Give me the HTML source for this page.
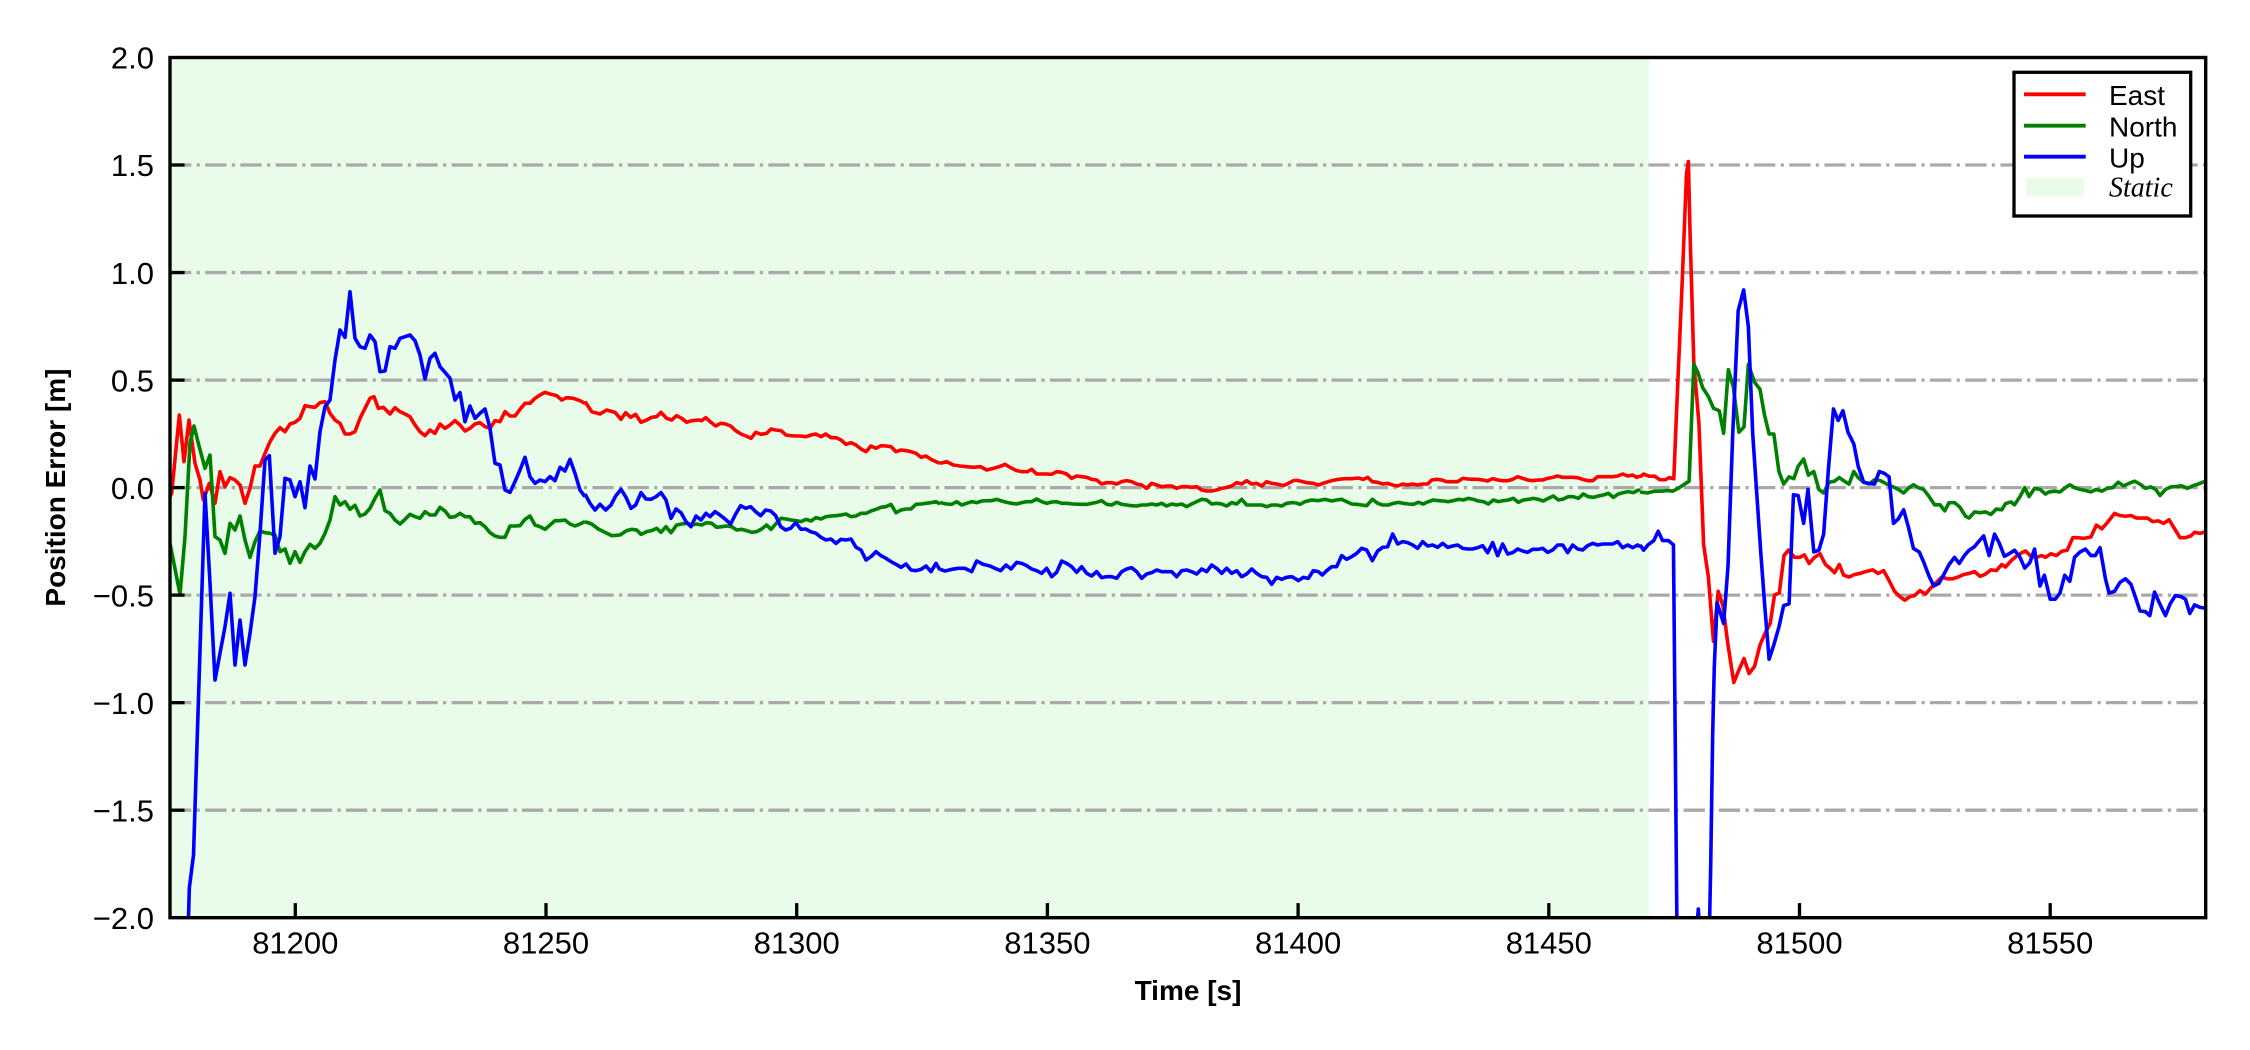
<!DOCTYPE html>
<html>
<head>
<meta charset="utf-8">
<style>
html,body{margin:0;padding:0;background:#fff;}
svg{display:block;}
text{font-family:"Liberation Sans",Arial,sans-serif;}
.tk{font-size:31px;fill:#000;}
.lbl{font-size:28px;font-weight:bold;fill:#000;}
.lg{font-size:28px;fill:#000;}
.s{fill:none;stroke-width:3.6;stroke-linejoin:round;stroke-linecap:butt;}
</style>
</head>
<body>
<svg width="2250" height="1050" viewBox="0 0 2250 1050" xmlns="http://www.w3.org/2000/svg">
<defs>
<clipPath id="ax"><rect x="170" y="57.5" width="2035.7" height="860.2"/></clipPath>
</defs>
<rect x="0" y="0" width="2250" height="1050" fill="#fff"/>
<!-- static region -->
<rect x="170" y="57.5" width="1479" height="860.2" fill="#e9fce9"/>
<!-- grid -->
<g stroke="#a9a9a9" stroke-width="3.3" stroke-dasharray="21.3 5.3 3.3 5.3" fill="none">
<line x1="170" y1="165.0" x2="2205.7" y2="165.0"/>
<line x1="170" y1="272.55" x2="2205.7" y2="272.55"/>
<line x1="170" y1="380.1" x2="2205.7" y2="380.1"/>
<line x1="170" y1="487.6" x2="2205.7" y2="487.6"/>
<line x1="170" y1="595.1" x2="2205.7" y2="595.1"/>
<line x1="170" y1="702.65" x2="2205.7" y2="702.65"/>
<line x1="170" y1="810.2" x2="2205.7" y2="810.2"/>
</g>
<g clip-path="url(#ax)">
<!-- zoom6 region -->
<g transform="translate(170,250) scale(0.333333)">
<polyline class="s" stroke="#ff0000" vector-effect="non-scaling-stroke" points="0,740 5,730 28,495 42,635 57,510 75,640 90,690 100,750 118,700 135,760 150,665 165,710 180,683 195,690 210,705 225,760 240,715 255,648 270,648 285,610 300,575 315,550 330,533 345,545 360,522 375,517 390,505 405,467 420,470 435,472 450,458 465,455 480,490 495,510 510,520 525,552 540,552 555,545 570,505 585,475 600,445 612,440 625,475 640,472 660,492 675,473 690,485 705,492 720,500 735,525 750,545 765,557 780,540 795,550 810,522 825,535 840,525 855,512 870,525 885,543 900,535 915,522 930,518 945,530 960,535 975,512 990,515 1005,485 1020,498 1035,498 1050,478 1065,460 1080,460 1095,445 1110,435 1125,427 1140,432 1160,437 1175,450 1190,443 1210,445 1230,452 1245,460"/>
<polyline class="s" stroke="#008000" vector-effect="non-scaling-stroke" points="0,880 30,1033 45,860 60,580 72,528 85,580 105,655 120,615 135,860 150,870 165,910 180,820 195,840 210,798 225,870 240,922 255,875 270,843 285,848 300,850 315,855 330,905 345,897 360,940 375,905 390,937 405,905 420,883 435,895 450,880 465,850 480,810 495,740 510,765 525,755 540,778 555,766 570,798 585,792 600,775 615,745 630,720 645,782 660,790 675,810 690,822 705,808 720,793 735,800 750,805 765,785 780,795 795,795 810,772 825,783 840,802 855,800 870,790 885,800 900,800 915,820 930,818 945,830 960,848 975,858 990,862 1005,862 1020,828 1035,828 1050,827 1065,808 1080,798 1095,825 1110,830 1125,838 1140,825 1155,812 1170,812 1185,810 1200,822 1215,828 1230,822 1245,815"/>
<polyline class="s" stroke="#0000ff" vector-effect="non-scaling-stroke" points="54,2055 58,1914 70.5,1815 105,730 120,1000 135,1290 150,1210 165,1130 180,1030 195,1245 210,1110 225,1245 240,1150 255,1040 270,850 285,630 298,617 315,910 330,860 345,685 360,690 375,740 390,695 405,773 420,648 435,687 450,545 465,470 480,450 495,330 510,240 525,262 540,125 555,265 570,290 585,295 600,255 615,275 630,365 645,363 660,290 675,295 690,265 705,260 720,255 735,272 750,315 765,387 780,325 795,310 810,350 825,367 840,385 855,450 870,428 885,515 900,468 915,505 930,490 945,477 960,535 975,640 990,645 1005,720 1020,727 1035,695 1050,660 1065,622 1080,680 1095,700 1110,690 1125,695 1140,680 1155,692 1170,652 1185,663 1200,628 1215,670 1230,720 1245,740"/>
</g>
<!-- zoom8 region -->
<g transform="translate(585,370) scale(0.333333)">
<polyline class="s" stroke="#ff0000" vector-effect="non-scaling-stroke" points="0,95 20,125 45,132 65,120 90,127 108,148 122,128 137,142 152,133 168,157 185,150 200,142 215,140 228,127 245,145 260,150 275,137 290,145 305,157 320,152 340,150 350,152 362,143 378,157 392,168 407,160 422,162 437,168 452,182 468,192 483,198 498,205 512,187 528,193 545,190 558,177 572,180 588,182 603,195 618,197 633,198 648,198 663,200 678,195 692,192 708,200 722,192 738,203 753,203 768,210 783,223 798,218 813,225 828,237 843,245 858,228 873,235 888,227 903,228 918,230 933,245 948,240 963,242 978,245 993,250 1008,262 1023,258 1038,268 1053,275 1065,280"/>
<polyline class="s" stroke="#008000" vector-effect="non-scaling-stroke" points="0,455 20,462 40,477 60,487 80,497 105,495 125,482 140,478 155,480 168,493 185,485 200,482 215,475 228,487 243,470 258,488 275,465 290,462 305,460 320,465 335,462 350,465 365,458 380,460 395,472 410,470 425,468 440,470 455,480 470,478 485,482 500,487 515,485 530,477 545,465 558,478 572,462 588,445 603,447 618,450 633,452 648,455 663,448 678,453 693,443 708,447 723,440 738,438 753,437 768,435 783,432 798,440 813,438 828,430 843,430 858,423 873,418 888,412 903,410 918,403 933,428 948,420 963,417 978,417 993,403 1008,402 1023,400 1038,398 1053,395 1065,402"/>
<polyline class="s" stroke="#0000ff" vector-effect="non-scaling-stroke" points="0,372 15,400 30,420 45,403 62,420 78,405 92,378 108,358 122,380 138,415 152,405 168,368 183,387 198,388 213,380 228,368 243,390 258,445 273,417 288,428 303,455 318,470 333,438 348,450 363,430 375,440 390,425 405,435 420,447 437,462 452,432 467,407 482,415 497,410 512,425 527,437 542,420 557,423 572,437 587,470 602,480 617,475 632,458 648,478 662,477 677,485 693,490 708,502 723,510 738,507 753,520 768,508 783,510 798,507 813,532 828,540 843,570 858,560 873,545 888,557 903,565 918,575 933,583 948,592 963,582 978,600 993,602 1008,598 1023,588 1038,605 1053,580 1065,600"/>
</g>
<!-- zoom9 region -->
<g transform="translate(940,370) scale(0.333333)">
<polyline class="s" stroke="#ff0000" vector-effect="non-scaling-stroke" points="0,280 20,275 40,285 60,288 80,290 100,292 122,290 140,300 160,295 178,290 195,283 212,293 230,302 245,305 262,305 275,298 290,312 305,312 320,312 335,313 350,305 365,307 380,312 395,325 410,318 425,320 440,322 455,328 470,330 485,342 500,338 515,338 530,342 545,335 560,332 575,335 590,342 605,345 620,355 635,340 650,345 665,350 680,348 695,348 710,355 725,350 740,350 755,352 770,350 785,360 800,363 815,363 830,360 845,355 860,352 875,348 890,338 905,342 920,332 935,342 950,340 965,348 980,335 995,340 1010,342 1030,347 1045,340 1060,332 1065,331"/>
<polyline class="s" stroke="#008000" vector-effect="non-scaling-stroke" points="0,398 20,402 35,403 50,395 65,405 80,400 95,395 110,398 125,393 140,392 155,392 170,388 185,393 200,397 215,400 230,402 245,398 260,395 275,395 290,387 305,395 320,400 335,396 350,395 365,400 380,400 400,402 420,403 440,403 455,400 470,397 485,392 500,403 515,405 530,397 545,403 560,405 575,407 590,408 605,405 620,405 635,402 650,405 665,400 680,408 695,402 710,405 725,402 740,410 755,402 770,395 785,388 800,390 815,402 830,400 845,402 860,408 875,398 890,402 905,388 920,405 935,405 950,405 965,405 980,410 995,405 1010,405 1025,408 1040,400 1055,398 1065,398"/>
<polyline class="s" stroke="#0000ff" vector-effect="non-scaling-stroke" points="0,598 15,603 35,598 55,595 75,595 95,605 110,573 130,583 150,588 165,595 182,602 198,585 213,597 230,577 245,580 260,587 275,597 290,602 305,610 320,595 335,620 350,607 365,573 380,580 395,590 410,607 425,590 440,610 455,618 470,605 485,623 500,620 515,620 530,625 545,605 560,597 575,593 590,605 605,625 620,612 635,608 650,600 665,605 680,605 695,605 710,620 725,602 740,600 755,605 770,612 785,597 800,605 815,585 830,595 845,610 860,595 875,610 890,602 905,620 920,612 935,597 950,610 965,620 980,622 995,643 1010,622 1025,628 1040,622 1055,620 1065,625"/>
</g>
<!-- zoom10 region -->
<g transform="translate(1295,370) scale(0.333333)">
<polyline class="s" stroke="#ff0000" vector-effect="non-scaling-stroke" points="0,330 15,333 35,338 55,340 70,345 90,338 110,332 130,328 150,326 170,326 190,324 205,328 218,322 232,335 248,337 263,342 278,340 293,345 308,348 323,342 338,345 353,342 368,345 383,342 398,342 410,330 425,328 440,330 455,335 470,335 488,335 503,325 518,327 533,328 548,328 563,330 578,333 593,326 608,330 623,332 638,332 653,328 668,320 683,325 698,330 713,332 728,330 743,330 758,325 773,322 788,318 803,322 818,322 833,322 848,323 863,328 878,332 893,332 908,320 923,320 938,320 953,320 968,318 983,312 998,318 1013,315 1025,322 1035,318"/>
<polyline class="s" stroke="#008000" vector-effect="non-scaling-stroke" points="0,398 15,403 30,395 50,390 70,392 90,388 110,393 125,390 140,388 155,395 170,402 185,403 200,405 215,407 232,388 248,400 263,405 280,405 295,400 310,397 325,400 340,402 355,403 370,397 385,402 400,395 415,390 430,392 445,393 460,395 475,392 490,388 505,390 520,385 535,388 550,393 565,395 580,402 595,390 610,395 625,392 640,390 655,385 670,397 685,390 700,388 715,385 730,388 745,393 760,385 775,378 790,390 805,387 820,380 835,380 850,385 865,372 880,380 895,382 910,378 925,375 940,370 955,382 970,372 985,368 1000,365 1015,368 1030,360 1035,362"/>
<polyline class="s" stroke="#0000ff" vector-effect="non-scaling-stroke" points="0,625 10,632 25,622 40,625 55,602 70,605 82,615 95,602 110,590 125,590 140,557 155,568 170,560 185,550 200,535 215,540 232,572 248,543 263,532 278,530 293,492 308,522 323,515 338,518 353,525 368,535 383,515 398,528 413,525 428,532 443,520 458,532 473,528 488,525 503,535 518,537 533,537 548,533 563,527 578,548 593,518 608,557 623,522 638,552 653,548 668,537 683,543 698,547 713,538 728,538 743,535 758,547 773,540 788,525 803,525 818,548 833,525 848,537 863,540 878,527 893,520 908,525 923,522 938,522 953,522 968,515 983,533 998,525 1013,533 1028,525 1035,530"/>
</g>
<!-- zoom7 region -->
<g transform="translate(1640,130.1) scale(0.363636,0.357526)">
<polyline class="s" stroke="#ff0000" vector-effect="non-scaling-stroke" points="0,970 10,962 25,968 40,968 55,978 70,978 80,972 93,975 100,800 115,450 128,120 133,88 138,300 148,650 162,820 175,1160 188,1250 202,1430 215,1290 228,1330 242,1440 258,1545 272,1510 286,1478 300,1520 315,1500 330,1440 345,1405 358,1380 370,1300 383,1295 396,1190 408,1175 425,1195 440,1195 452,1188 465,1212 480,1195 495,1185 510,1215 522,1225 535,1238 548,1215 560,1245 575,1250 590,1243 605,1240 620,1235 640,1230 655,1240 670,1232 685,1260 700,1290 715,1305 728,1315 742,1305 755,1302 770,1288 785,1298 800,1280 815,1265 830,1250 845,1255 860,1255 875,1250 890,1243 905,1240 920,1235 935,1248 950,1242 965,1230 980,1232 995,1215 1005,1222 1020,1205 1035,1192 1050,1182 1060,1177 1075,1192 1090,1195 1105,1190 1115,1195 1130,1185 1145,1190 1160,1178 1175,1175 1190,1140 1205,1140 1220,1142 1240,1138 1255,1105 1270,1115 1285,1098 1305,1072 1320,1078 1335,1080 1350,1078 1365,1085 1380,1085 1395,1085 1410,1095 1425,1093 1440,1100 1455,1090 1470,1115 1485,1140 1500,1140 1515,1135 1525,1125 1540,1128 1560,1122"/>
<polyline class="s" stroke="#008000" vector-effect="non-scaling-stroke" points="0,1012 20,1015 40,1010 60,1010 75,1008 90,1010 105,1002 120,992 135,982 148,655 160,680 172,720 188,745 202,778 218,785 230,848 243,670 257,720 272,845 286,830 298,655 315,705 330,725 342,795 355,850 368,850 382,955 395,990 410,970 423,975 435,940 450,920 463,965 478,955 492,1005 505,1015 520,985 535,982 548,972 562,982 575,990 588,955 600,972 615,985 630,990 645,978 660,980 675,988 690,995 710,1005 725,1015 740,1000 752,992 765,1000 780,1005 795,1025 810,1048 825,1048 838,1065 850,1042 865,1042 880,1055 895,1080 905,1085 920,1068 935,1070 950,1068 965,1075 980,1060 995,1062 1005,1045 1020,1040 1030,1048 1045,1025 1058,1000 1070,1025 1085,1002 1100,1005 1115,1018 1125,1012 1140,1010 1155,1012 1170,1000 1182,992 1195,1000 1210,1005 1225,1008 1240,1012 1255,1005 1270,1010 1285,1002 1300,1000 1315,985 1330,995 1345,988 1360,982 1375,990 1390,1002 1405,998 1418,1005 1430,1022 1445,1005 1460,998 1475,997 1490,995 1505,1002 1520,995 1535,990 1560,980"/>
<polyline class="s" stroke="#0000ff" vector-effect="non-scaling-stroke" points="0,1160 10,1175 22,1160 38,1148 50,1122 62,1148 78,1148 92,1160 101.75,2251"/>
<polyline class="s" stroke="#0000ff" vector-effect="non-scaling-stroke" points="190.6,2251 194.4,2060 199.9,1687 204.3,1501 212,1322 230,1380 242,1220 255,850 270,505 285,447 298,550 310,850 320,1000 332,1180 343,1330 355,1480 368,1440 382,1390 395,1330 410,1325 422,1020 435,1022 450,1100 462,1005 478,1180 492,1175 505,1130 518,950 532,780 545,812 558,785 572,845 588,878 600,940 615,985 630,988 645,990 658,955 672,960 685,970 697,1100 710,1088 725,1062 738,1110 752,1170 768,1180 780,1208 795,1248 808,1275 822,1268 838,1238 850,1215 865,1195 878,1212 892,1190 905,1175 920,1165 932,1150 945,1135 960,1190 975,1130 988,1155 1002,1192 1015,1185 1030,1175 1045,1195 1058,1225 1072,1210 1085,1172 1100,1275 1112,1245 1128,1312 1142,1312 1155,1295 1168,1245 1182,1262 1195,1195 1210,1180 1225,1172 1240,1190 1252,1190 1265,1168 1280,1255 1290,1295 1305,1290 1320,1265 1335,1255 1350,1270 1362,1305 1375,1345 1390,1347 1402,1358 1415,1292 1428,1322 1445,1358 1458,1325 1472,1302 1488,1305 1500,1312 1512,1352 1525,1328 1540,1335 1560,1338"/>
</g>
<polyline class="s" stroke="#0000ff" points="1696.5,935 1698.3,909 1700,935"/>
</g>
<!-- ticks -->
<g stroke="#000" stroke-width="3.3">
<line x1="170" y1="165.0" x2="184.6" y2="165.0"/>
<line x1="170" y1="272.55" x2="184.6" y2="272.55"/>
<line x1="170" y1="380.1" x2="184.6" y2="380.1"/>
<line x1="170" y1="487.6" x2="184.6" y2="487.6"/>
<line x1="170" y1="595.1" x2="184.6" y2="595.1"/>
<line x1="170" y1="702.65" x2="184.6" y2="702.65"/>
<line x1="170" y1="810.2" x2="184.6" y2="810.2"/>
<line x1="295.3" y1="917.7" x2="295.3" y2="903.1"/>
<line x1="546.0" y1="917.7" x2="546.0" y2="903.1"/>
<line x1="796.7" y1="917.7" x2="796.7" y2="903.1"/>
<line x1="1047.4" y1="917.7" x2="1047.4" y2="903.1"/>
<line x1="1298.1" y1="917.7" x2="1298.1" y2="903.1"/>
<line x1="1548.8" y1="917.7" x2="1548.8" y2="903.1"/>
<line x1="1799.5" y1="917.7" x2="1799.5" y2="903.1"/>
<line x1="2050.2" y1="917.7" x2="2050.2" y2="903.1"/>
</g>
<!-- spines -->
<rect x="170" y="57.5" width="2035.7" height="860.2" fill="none" stroke="#000" stroke-width="3.4"/>
<!-- y tick labels -->
<g class="tk" text-anchor="end">
<text x="154" y="68.7">2.0</text>
<text x="154" y="176.2">1.5</text>
<text x="154" y="283.75">1.0</text>
<text x="154" y="391.3">0.5</text>
<text x="154" y="498.8">0.0</text>
<text x="154" y="606.3">−0.5</text>
<text x="154" y="713.85">−1.0</text>
<text x="154" y="821.4">−1.5</text>
<text x="154" y="928.9">−2.0</text>
</g>
<!-- x tick labels -->
<g class="tk" text-anchor="middle">
<text x="295.3" y="953.5">81200</text>
<text x="546.0" y="953.5">81250</text>
<text x="796.7" y="953.5">81300</text>
<text x="1047.4" y="953.5">81350</text>
<text x="1298.1" y="953.5">81400</text>
<text x="1548.8" y="953.5">81450</text>
<text x="1799.5" y="953.5">81500</text>
<text x="2050.2" y="953.5">81550</text>
</g>
<!-- axis labels -->
<text class="lbl" x="1188" y="1000" text-anchor="middle">Time [s]</text>
<text class="lbl" text-anchor="middle" transform="translate(65,487.6) rotate(-90)">Position Error [m]</text>
<!-- legend -->
<rect x="2014" y="72.3" width="176.7" height="143.7" fill="#fff" stroke="#000" stroke-width="3.3"/>
<line x1="2024" y1="94.3" x2="2085.7" y2="94.3" stroke="#ff0000" stroke-width="3.8"/>
<line x1="2024" y1="125.7" x2="2085.7" y2="125.7" stroke="#008000" stroke-width="3.8"/>
<line x1="2024" y1="156.7" x2="2085.7" y2="156.7" stroke="#0000ff" stroke-width="3.8"/>
<rect x="2026" y="178" width="58" height="18.7" fill="#e9fce9"/>
<text class="lg" x="2109" y="105">East</text>
<text class="lg" x="2109" y="136.3">North</text>
<text class="lg" x="2109" y="167.4">Up</text>
<text x="2109" y="196.7" style="font-family:'Liberation Serif','Times New Roman',serif;font-style:italic;font-size:28px;">Static</text>
</svg>
</body>
</html>
